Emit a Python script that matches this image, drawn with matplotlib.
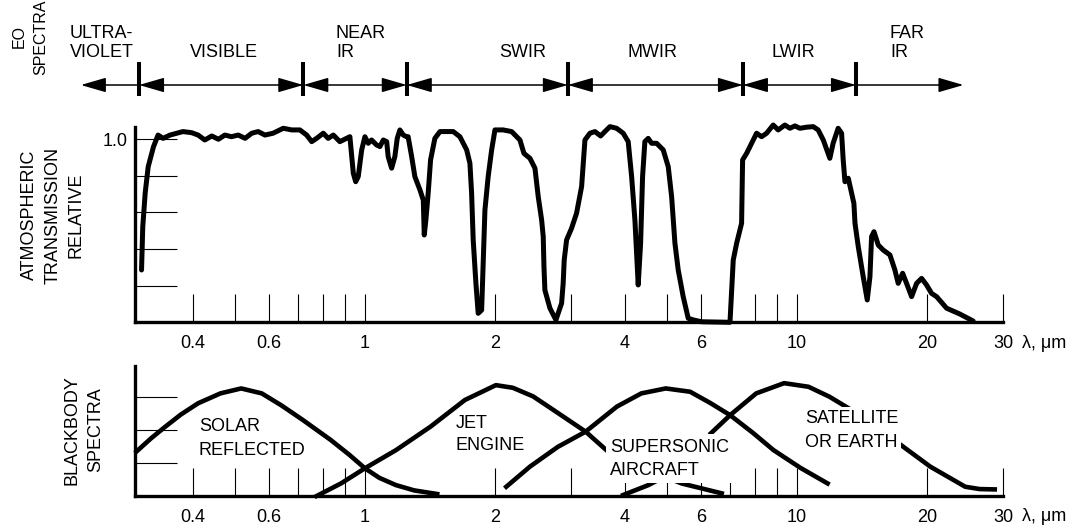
import matplotlib
matplotlib.use('Agg')
import matplotlib.pyplot as plt
from matplotlib.ticker import NullLocator

plt.rcParams['font.family'] = ['Liberation Sans', 'DejaVu Sans']
plt.rcParams['font.size'] = 13

# ---- values ----
band_names = ['ULTRA-\nVIOLET', 'VISIBLE', 'NEAR\nIR', 'SWIR', 'MWIR', 'LWIR', 'FAR\nIR']
# band limits in micrometres (first/last are the free arrow tips)
band_edges = [0.22, 0.30, 0.72, 1.25, 2.95, 7.5, 13.7, 24.3]

tick_values = [0.4, 0.5, 0.6, 0.7, 0.8, 0.9, 1, 2, 3, 4, 5, 6, 7, 8, 9, 10, 20, 30]
tick_labels = ['0.4', '', '0.6', '', '', '', '1', '2', '', '4', '', '6', '', '', '', '10', '20', '30']

# relative atmospheric transmission
trans_wl = [
    0.304, 0.306, 0.310, 0.315, 0.324, 0.332, 0.341, 0.354, 0.367, 0.379,
    0.397, 0.411, 0.426, 0.442, 0.458, 0.474, 0.491, 0.509, 0.528, 0.547,
    0.566, 0.587, 0.613, 0.647, 0.677, 0.707, 0.733, 0.753, 0.773, 0.801,
    0.822, 0.845, 0.875, 0.907, 0.923, 0.932, 0.940, 0.952, 0.965, 0.983,
    1.000, 1.018, 1.036, 1.064, 1.083, 1.103, 1.123, 1.132, 1.153, 1.173,
    1.188, 1.205, 1.227, 1.249, 1.259, 1.283, 1.305, 1.341, 1.365, 1.372,
    1.384, 1.401, 1.419, 1.452, 1.492, 1.546, 1.601, 1.659, 1.720, 1.750,
    1.766, 1.781, 1.807, 1.829, 1.863, 1.879, 1.896, 1.929, 1.965, 2.000,
    2.090, 2.186, 2.285, 2.334, 2.410, 2.475, 2.519, 2.565, 2.587, 2.597,
    2.610, 2.681, 2.768, 2.853, 2.877, 2.893, 2.930, 3.009, 3.090, 3.174,
    3.231, 3.318, 3.408, 3.513, 3.594, 3.691, 3.825, 3.962, 4.069, 4.144,
    4.217, 4.292, 4.347, 4.393, 4.447, 4.527, 4.610, 4.734, 4.904, 5.037,
    5.129, 5.220, 5.312, 5.455, 5.603, 5.754, 6.017, 7.000, 7.123, 7.253,
    7.447, 7.487, 7.649, 7.854, 8.067, 8.284, 8.510, 8.813, 9.052, 9.380,
    9.634, 9.894, 10.16, 10.53, 10.91, 11.20, 11.51, 11.92, 12.13, 12.46,
    12.69, 12.80, 12.92, 13.15, 13.39, 13.55, 13.63, 13.87, 14.24, 14.55,
    14.76, 14.89, 15.08, 15.43, 15.84, 16.42, 16.86, 17.16, 17.57, 17.94,
    18.43, 18.93, 19.44, 19.96, 20.50, 21.06, 22.21, 23.84, 25.15, 25.59,
]
trans_val = [
    0.286, 0.522, 0.707, 0.850, 0.959, 1.023, 1.005, 1.023, 1.033, 1.042,
    1.036, 1.023, 0.996, 1.018, 1.000, 1.023, 1.014, 1.023, 1.005, 1.033,
    1.042, 1.023, 1.033, 1.060, 1.051, 1.051, 1.023, 0.987, 1.005, 1.033,
    1.005, 1.023, 0.987, 1.005, 1.014, 0.905, 0.814, 0.768, 0.796, 0.942,
    1.014, 0.978, 0.996, 0.969, 0.960, 0.996, 0.987, 0.905, 0.842, 0.905,
    1.005, 1.051, 1.023, 1.014, 1.014, 0.905, 0.796, 0.723, 0.668, 0.477,
    0.559, 0.705, 0.887, 1.005, 1.042, 1.042, 1.042, 1.014, 0.942, 0.869,
    0.705, 0.450, 0.213, 0.049, 0.067, 0.340, 0.614, 0.796, 0.942, 1.051,
    1.051, 1.042, 0.996, 0.923, 0.896, 0.842, 0.686, 0.559, 0.468, 0.304,
    0.176, 0.077, 0.013, 0.104, 0.213, 0.340, 0.450, 0.514, 0.596, 0.741,
    0.996, 1.033, 1.042, 1.018, 1.042, 1.069, 1.060, 1.033, 0.987, 0.796,
    0.559, 0.204, 0.432, 0.796, 0.987, 1.005, 0.978, 0.978, 0.942, 0.850,
    0.686, 0.432, 0.286, 0.140, 0.022, 0.013, 0.003, 0.000, 0.340, 0.432,
    0.541, 0.887, 0.923, 0.978, 1.033, 1.014, 1.033, 1.078, 1.051, 1.078,
    1.060, 1.073, 1.060, 1.066, 1.069, 1.051, 0.996, 0.896, 0.978, 1.060,
    1.033, 0.887, 0.768, 0.787, 0.705, 0.650, 0.541, 0.413, 0.249, 0.122,
    0.249, 0.468, 0.495, 0.422, 0.395, 0.368, 0.286, 0.213, 0.268, 0.213,
    0.140, 0.213, 0.240, 0.204, 0.158, 0.140, 0.077, 0.045, 0.016, 0.007,
]

# blackbody spectra (arbitrary units)
solar_wl = [0.296, 0.32, 0.345, 0.375, 0.411, 0.463, 0.517, 0.577, 0.64, 0.719,
            0.833, 0.92, 1.00, 1.08, 1.18, 1.30, 1.47]
solar_val = [1.35, 1.75, 2.10, 2.47, 2.81, 3.11, 3.26, 3.11, 2.75, 2.30,
             1.70, 1.25, 0.84, 0.55, 0.33, 0.17, 0.06]

jet_wl = [0.773, 0.88, 1.00, 1.18, 1.418, 1.704, 2.01, 2.2, 2.45, 2.694,
          3.243, 3.658, 4.4, 5.41, 6.70]
jet_val = [0.0, 0.38, 0.84, 1.39, 2.10, 2.91, 3.36, 3.28, 3.02, 2.66,
           1.95, 1.34, 0.85, 0.38, 0.08]

supersonic_wl = [2.124, 2.41, 2.797, 3.243, 3.831, 4.364, 4.97, 5.66, 6.3, 7.005,
                 7.9, 8.83, 10.2, 11.78]
supersonic_val = [0.28, 0.89, 1.49, 1.95, 2.71, 3.11, 3.26, 3.16, 2.82, 2.45,
                  1.92, 1.39, 0.85, 0.38]

aircraft_wl = [3.96, 4.53, 4.8]
aircraft_val = [0.03, 0.33, 0.50]

earth_wl = [6.323, 7.005, 8.05, 9.34, 10.64, 11.89, 13.17, 15.2, 17.39, 20.36,
            24.53, 26.5, 28.71]
earth_val = [1.90, 2.45, 3.11, 3.42, 3.31, 3.01, 2.66, 2.10, 1.55, 0.89,
             0.28, 0.21, 0.20]

# ---- figure ----
W, H = 1076, 532
WL_MIN, WL_MAX = 0.2936, 30.0
fig = plt.figure(figsize=(W / 100, H / 100), dpi=100)


def px_box(left, top, right, bottom):
    """axes rectangle from pixel edges (origin top-left)"""
    return [left / W, 1 - bottom / H, (right - left) / W, (bottom - top) / H]


def style_axes(ax, ymax, yticks, ylabels):
    ax.set_xscale('log')
    ax.set_xlim(WL_MIN, WL_MAX)
    ax.set_ylim(0, ymax)
    ax.xaxis.set_minor_locator(NullLocator())
    ax.yaxis.set_minor_locator(NullLocator())
    ax.set_xticks(tick_values)
    ax.set_xticklabels(tick_labels)
    ax.set_yticks(yticks)
    ax.set_yticklabels(ylabels)
    ax.tick_params(axis='x', direction='in', length=20, width=0.8, pad=9)
    ax.tick_params(axis='y', direction='in', length=30, width=0.8, pad=5)
    for side in ['top', 'right']:
        ax.spines[side].set_visible(False)
    for side in ['left', 'bottom']:
        ax.spines[side].set_linewidth(2.4)
    ax.patch.set_visible(False)
    # wavelength unit after the last tick
    ax.annotate('λ, μm', xy=(1, 0), xycoords='axes fraction',
                xytext=(14, -15), textcoords='offset points',
                ha='left', va='center')


ax_top = fig.add_axes(px_box(135, 127, 1003, 322.3))
style_axes(ax_top, 1.067, [0.2, 0.4, 0.6, 0.8, 1.0], ['', '', '', '', '1.0'])
ax_top.plot(trans_wl, trans_val, color='black', lw=3.6, clip_on=False,
            solid_joinstyle='round', solid_capstyle='round')

ax_bot = fig.add_axes(px_box(135, 366, 1003, 496))
style_axes(ax_bot, 3.94, [1, 2, 3], ['', '', ''])
for wl, val in [(solar_wl, solar_val), (jet_wl, jet_val),
                (supersonic_wl, supersonic_val), (aircraft_wl, aircraft_val),
                (earth_wl, earth_val)]:
    ax_bot.plot(wl, val, color='black', lw=3.3, clip_on=False, zorder=2,
                solid_joinstyle='round')

# curve labels; white boxes hide the curves that run behind them
ax_bot.text(0.4127, 2.36, 'SOLAR\nREFLECTED', ha='left', va='top', linespacing=1.5, zorder=3)
ax_bot.text(1.624, 2.47, 'JET\nENGINE', ha='left', va='top', linespacing=1.45, zorder=3)
ax_bot.text(3.69, 1.74, 'SUPERSONIC\nAIRCRAFT', ha='left', va='top', linespacing=1.5,
            zorder=3, bbox=dict(facecolor='white', edgecolor='none', pad=3.0))
ax_bot.text(10.44, 2.62, 'SATELLITE\nOR EARTH', ha='left', va='top', linespacing=1.6,
            zorder=3, bbox=dict(facecolor='white', edgecolor='none', pad=1.5))

# ---- EO spectral bands strip (y in pixels from top of figure) ----
ax_band = fig.add_axes(px_box(135, 0, 1003, 100))
ax_band.set_xscale('log')
ax_band.set_xlim(WL_MIN, WL_MAX)
ax_band.set_ylim(100, 0)
ax_band.axis('off')

arrow_y = 85
head = 'head_length=1.55,head_width=0.45'
for i in range(len(band_edges) - 1):
    a, b = band_edges[i], band_edges[i + 1]
    if i == 0:
        style, start, end = '-|>,' + head, b, a
    elif i == len(band_edges) - 2:
        style, start, end = '-|>,' + head, a, b
    else:
        style, start, end = '<|-|>,' + head, a, b
    ax_band.annotate('', xy=(end, arrow_y), xytext=(start, arrow_y),
                     arrowprops=dict(arrowstyle=style, color='black', lw=1.1,
                                     shrinkA=0, shrinkB=0, mutation_scale=10),
                     annotation_clip=False)
for e in band_edges[1:-1]:
    ax_band.plot([e, e], [62, 96], color='black', lw=2.9, clip_on=False,
                 solid_capstyle='butt')

label_x = [0.2075, 0.4716, 0.857, 2.322, 4.63, 9.83, 16.42]
label_ha = ['left', 'center', 'left', 'center', 'center', 'center', 'left']
for name, x, ha in zip(band_names, label_x, label_ha):
    ax_band.text(x, 61, name, ha=ha, va='bottom', linespacing=1.15, clip_on=False)

# ---- side titles ----
fig.text(30 / W, 1 - 37 / H, 'EO\nSPECTRA', rotation=90, ha='center', va='center',
         multialignment='center', linespacing=1.55, fontsize=11.5)
fig.text(53 / W, 1 - 215 / H, 'ATMOSPHERIC\nTRANSMISSION\nRELATIVE', rotation=90,
         ha='center', va='center', multialignment='center', linespacing=1.5)
fig.text(84 / W, 1 - 430 / H, 'BLACKBODY\nSPECTRA', rotation=90, ha='center',
         va='center', multialignment='center', linespacing=1.5)

fig.savefig('out.png', dpi=100, facecolor='white')
